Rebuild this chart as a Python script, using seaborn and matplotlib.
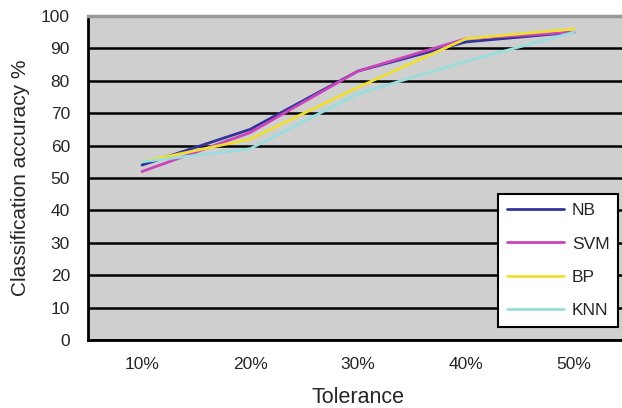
import matplotlib
matplotlib.use("Agg")
import matplotlib.pyplot as plt
import seaborn as sns
import pandas as pd
import numpy as np
from matplotlib.ticker import FixedLocator

tolerance = ["10%", "20%", "30%", "40%", "50%"]
nb = [54, 65, 83, 92, 95]
svm = [52, 64, 83, 93, 95]
bp = [55, 62, 78, 93, 96]
knn = [55, 59, 76, 86, 95]
series = ["NB", "SVM", "BP", "KNN"]
colors = ["#333399", "#CC44BB", "#EEE033", "#99DDDD"]

rows = []
for name, vals in zip(series, [nb, svm, bp, knn]):
    for i, v in enumerate(vals):
        rows.append({"pos": i, "Tolerance": tolerance[i], "acc": v, "Method": name})
df = pd.DataFrame(rows)

sns.set_style("white")
plt.rcParams["font.family"] = ["Liberation Sans", "DejaVu Sans"]

fig = plt.figure(figsize=(6.22, 4.08), dpi=100)
ax = fig.add_axes([88 / 622, 68 / 408, 540 / 622, 324 / 408])
ax.set_facecolor("#CFCFCF")

sns.lineplot(data=df, x="pos", y="acc", hue="Method", hue_order=series,
             palette=colors, linewidth=2, ax=ax, legend=True)

ax.set_xlim(-0.5, 4.5)
ax.set_ylim(0, 100)
ax.set_yticks(np.arange(0, 101, 10))
ax.yaxis.grid(True, color="black", linewidth=1.8)
ax.set_axisbelow(True)

# category labels at centres, tick marks on the boundaries
ax.set_xticks(range(len(tolerance)))
ax.set_xticklabels(tolerance, fontsize=12.5)
ax.xaxis.set_minor_locator(FixedLocator(np.arange(-0.5, 4.6, 1.0)))
ax.tick_params(axis="x", which="major", length=0, pad=12)
ax.tick_params(axis="x", which="minor", length=6, width=1.5, color="black", direction="out")
ax.tick_params(axis="y", length=6, width=1.5, color="black", direction="out",
               labelsize=12.5, pad=7)

for side in ["left", "bottom"]:
    ax.spines[side].set_color("black")
    ax.spines[side].set_linewidth(2)
ax.spines["top"].set_color("#999999")
ax.spines["top"].set_linewidth(2.5)
ax.spines["right"].set_visible(False)

ax.set_xlabel("Tolerance", fontsize=15.5, labelpad=11)
ax.set_ylabel("Classification accuracy %", fontsize=15, labelpad=8)

leg = ax.legend(loc="lower right", bbox_to_anchor=(530 / 540, 13 / 324),
                borderaxespad=0, frameon=True, fancybox=False, fontsize=12.5,
                handlelength=3.3, labelspacing=1.05, borderpad=0.5,
                handletextpad=0.45)
leg.get_frame().set_edgecolor("black")
leg.get_frame().set_linewidth(1.5)
leg.get_frame().set_facecolor("white")
leg.get_frame().set_alpha(1)

fig.savefig("out.png", dpi=100)
